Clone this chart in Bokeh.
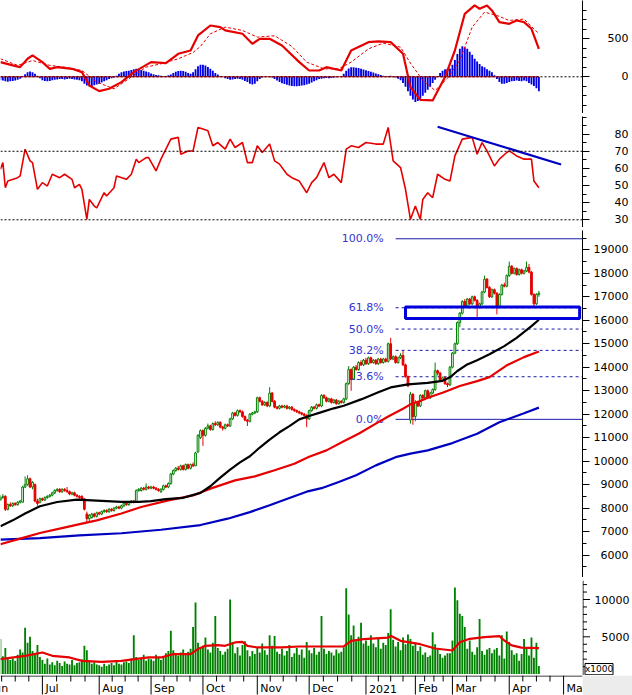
import numpy as np
import pandas as pd
from bokeh.plotting import figure
from bokeh.layouts import column, row
from bokeh.models import Range1d, LinearAxis, FixedTicker, ColumnDataSource, Span
from bokeh.core.properties import value
from bokeh.embed import file_html
from bokeh.resources import INLINE

# ---------------- calendar ----------------
calendar_start = "2020-06-01"
first_trade = "2020-06-08"
last_trade = "2021-04-19"
calendar_end = "2021-05-31"
origin_day = "2020-07-01"
holidays = ["2020-09-02", "2021-01-01", "2021-02-10", "2021-02-11", "2021-02-12",
            "2021-02-15", "2021-02-16"]
month_names = ["Jun", "Jul", "Aug", "Sep", "Oct", "Nov", "Dec", "2021", "Feb", "Mar", "Apr", "May"]

# ---------------- candles (open, high, low, close) ----------------
candles_jun = [(8350,8550,8300,8450),(8450,8600,8400,8500),(8500,8550,7880,7950),(7950,8200,7900,8150),(8150,8250,8050,8100),
               (8100,8250,8050,8200),(8200,8250,8100,8150),(8150,8300,8100,8250),(8250,8350,8200,8300),(8250,8950,8250,8900),
               (8900,9350,8850,9000),(9000,9400,8950,9250),(9250,9300,8850,8900),(8900,9150,8800,9100),(9000,9050,8250,8300),
               (8300,8400,8100,8200),(8250,8450,8200,8400)]
candles_jul = [(8400,8450,8300,8350),(8350,8500,8300,8450),(8450,8550,8400,8500),(8500,8600,8450,8550),(8550,8700,8500,8650),
               (8650,8800,8600,8750),(8750,8850,8700,8800),(8800,8850,8650,8700),(8700,8850,8650,8800),(8800,8850,8700,8750),
               (8750,8900,8650,8700),(8700,8750,8550,8600),(8600,8700,8550,8650),(8650,8700,8500,8550),(8550,8600,8450,8500),
               (8500,8550,8400,8450),(8500,8550,8350,8400),(8400,8400,7900,7950),(7750,7850,7350,7550),(7550,7750,7400,7700),
               (7600,7800,7550,7750),(7750,7800,7600,7650),(7650,7850,7600,7800)]
candles_aug = [(7800,7850,7700,7750),(7750,7900,7700,7850),(7850,7950,7800,7900),(7900,7950,7800,7850),(7850,8000,7800,7950),
               (7950,8000,7850,7900),(7900,8050,7850,8000),(8000,8100,7950,8050),(8050,8100,7950,8000),(8000,8150,7950,8100),
               (8100,8250,8050,8200),(8200,8250,8100,8150),(8150,8300,8100,8250),(8250,8350,8200,8300),(8300,8350,8200,8250),
               (8250,8800,8250,8750),(8750,8850,8700,8800),(8750,8900,8700,8850),(8850,8900,8750,8800),(8800,9050,8750,8900),
               (8900,8950,8800,8850)]
candles_sep = [(8850,8950,8800,8900),(8900,8950,8800,8850),(8850,8900,8750,8800),(8800,8850,8700,8750),(8700,8850,8650,8800),
               (8800,9000,8750,8950),(8950,9000,8850,8900),(8900,9100,8850,9050),(9050,9500,9000,9450),(9450,9650,9400,9600),
               (9600,9750,9550,9700),(9700,9800,9600,9650),(9650,9850,9600,9800),(9800,9850,9600,9650),(9650,9900,9600,9850),
               (9850,9900,9650,9700),(9700,9900,9650,9850),(9850,9950,9750,9800),(9800,10400,9800,10350),(10400,11150,10350,11100),
               (11000,11350,10950,11300)]
candles_oct = [(11300,11350,10650,11100),(11100,11450,11050,11400),(11400,11600,11350,11500),(11500,11550,11300,11350),(11350,11650,11300,11600),
               (11600,11700,11500,11550),(11550,11700,11500,11650),(11650,11700,11400,11450),(11450,11500,11300,11400),(11400,11600,11350,11550),
               (11550,11600,11450,11500),(11500,11850,11450,11800),(11800,12100,11750,12050),(12050,12100,11900,11950),(11950,12200,11900,12150),
               (12150,12200,12050,12100),(12100,12150,11850,11900),(11900,11950,11700,11750),(11750,11800,11500,11700),(11700,12050,11650,12000),
               (12000,12100,11950,12050),(12050,12150,12000,12100)]
candles_nov = [(12100,12750,12050,12700),(12700,12750,12500,12550),(12550,12600,12350,12400),(12400,12550,12350,12500),(12500,12550,12300,12350),
               (12350,13150,12300,12900),(12900,12950,12500,12550),(12550,12600,12250,12300),(12300,12350,12200,12250),(12250,12400,12200,12350),
               (12350,12400,12250,12300),(12300,12400,12250,12350),(12350,12400,12200,12250),(12250,12350,12200,12300),(12300,12350,12150,12200),
               (12200,12250,12100,12150),(12150,12200,12050,12100),(12100,12150,12000,12050),(12050,12100,11950,12000),(12000,12050,11900,11950),
               (11950,12000,11450,11800)]
candles_dec = [(11800,12200,11750,12150),(12150,12350,12100,12300),(12300,12350,12200,12250),(12250,12450,12200,12400),(12400,12450,12300,12350),
               (12350,12850,12300,12800),(12800,12850,12650,12700),(12700,12750,12500,12550),(12550,12700,12500,12650),(12650,12700,12450,12500),
               (12500,12650,12450,12600),(12600,12650,12400,12450),(12450,12600,12400,12550),(12550,12600,12450,12500),(12500,12700,12450,12650),
               (12650,13350,12600,13300),(13300,14050,13250,13900),(13900,13950,13000,13500),(13500,14050,13450,14000),(14000,14100,13850,13900),
               (13900,14250,13850,14200),(14200,14300,14050,14100),(14100,14350,14050,14300)]
candles_jan = [(14300,14400,14100,14150),(14150,14450,14100,14400),(14400,14450,14150,14200),(14200,14350,14150,14300),(14300,14350,14100,14150),
               (14150,14400,14100,14350),(14350,14400,14150,14200),(14200,14400,14150,14350),(14350,14400,14200,14250),(14250,15050,14200,15000),
               (15000,15250,14300,14350),(14350,14500,14300,14450),(14450,14500,14150,14200),(14200,14450,14150,14400),(14400,14600,14350,14500),
               (14500,14700,14050,14100),(14100,14150,13550,13600),(13600,13650,13150,13200),(11750,12950,11600,12850),(12850,12900,11550,11900)]
candles_feb = [(11900,12600,11700,12500),(12500,12550,12300,12350),(12350,12850,12300,12800),(12800,12850,12600,12700),(12700,13050,12650,13000),
               (13000,13050,12650,12700),(12700,12950,12650,12900),(12900,13100,12850,13050),(13050,14200,13000,13850),(13850,13900,13650,13750),
               (13750,13800,13400,13450),(13450,13600,13400,13550),(13550,13600,13250,13300),(13300,13350,13150,13250),(13250,14050,13200,14000)]
candles_mar = [(14000,14650,13950,14600),(14600,15050,14550,15000),(15000,15950,14950,15900),(15900,16350,15700,16300),(16300,16850,16250,16800),
               (16800,16900,16550,16600),(16600,16950,16550,16900),(16900,16950,16650,16700),(16700,17050,16650,17000),(17000,17050,16800,16850),
               (16850,16900,16100,16550),(16550,16750,16500,16700),(16700,17250,16650,17200),(17200,17900,17150,17750),(17750,17800,17350,17400),
               (17400,17450,16950,17000),(17000,17350,16950,17300),(17300,17350,17100,17150),(17150,17200,16250,16600),(16600,17150,16550,17100),
               (17100,17550,17050,17500),(17500,17600,17400,17450),(17450,17950,17400,17900)]
candles_apr = [(17900,18500,17850,18300),(18300,18350,17950,18000),(18000,18250,17950,18200),(18200,18250,17900,17950),(17950,18200,17900,18150),
               (18150,18200,17950,18000),(18000,18150,17950,18100),(18100,18500,18050,18250),(18250,18400,18000,18050),(18050,18100,17050,17100),
               (17100,17150,16550,16700),(16700,17150,16650,17100),(17100,17250,17000,17150)]

# ---------------- volume (shares, x1000) ----------------
vol_jun = [4700,2400,3500,2200,1900,2100,1800,2600,3300,2900,6200,4200,5000,3100,2600,3900,2300]
vol_jul = [1900,1400,2100,1300,1600,1200,1800,1500,1100,1700,1400,1300,1900,1200,1500,1600,2000,3800,3200,1700,1400,1600,1300]
vol_aug = [1200,1000,1400,1100,1300,1500,1200,1800,1400,1300,1600,1700,1500,2100,5200,2300,1900,2200,2600,1800,2100]
vol_sep = [2000,1800,2600,2200,1900,2400,2800,3100,5800,3200,2700,2500,2900,3300,2600,3000,3400,6300,9600,4200,3600]
vol_oct = [3800,4900,3300,2900,4200,7800,3500,3100,2600,3000,3400,10000,4300,2800,3600,2500,3900,4400,3200,2400,3100,2700]
vol_nov = [3600,2900,4100,3200,2600,5200,3800,5100,3000,2700,3400,2500,3100,3900,2300,2800,3500,2600,3300,2200,4300]
vol_dec = [3200,2800,3500,2600,3000,7800,3400,2700,3100,2900,2500,3300,2800,3000,3600,11500,8000,5200,6500,4400,5000,6900,4100]
vol_jan = [4500,3800,5200,4100,3600,4800,3400,4200,3900,5500,8700,4600,3700,4300,3200,4900,4000,5300,4700,3800]
vol_feb = [4200,3100,3700,2600,2900,2300,2500,5600,4000,3300,2700,2200,2500,2800,2800]
vol_mar = [4500,11600,9900,8100,7800,6300,3400,4500,3000,2600,3600,7400,3100,2600,3300,3500,2800,3300,3500,2500,5200,2100,5700]
vol_apr = [4300,3200,2600,2800,1800,2700,4700,3600,2500,4900,2200,4200,1100]
vol_unit_label = "x1000"

vol_ma_day = [-17,-7,0,4,11,16,24,32,43,48,53,60,63,66,71,74,78,81,83,87,97,104,122,125,130,140,141,145,153,159,166,169,173,179,185,187,190,194,201]
vol_ma_val = [2010,2450,2900,2450,2230,1780,1650,1780,2230,2230,2680,2680,3350,3790,3880,3790,4240,4330,3790,3570,
              3570,3700,3700,4460,4680,4900,5130,4460,4010,3430,3160,4280,4730,4950,5100,4500,3850,3540,3480]

# ---------------- moving averages on price (day numbers count trading days from 2020-07-01) ----------------
ma_black_day = [-17,-12,-7,-1,6,14,22,32,39,44,50,57,64,68,72,76,80,84,88,92,96,100,104,108,113,118,122,129,136,141,148,156,162,165,168,172,176,181,187,192,198,201]
ma_black_val = [7230,7480,7770,8080,8260,8360,8320,8270,8270,8300,8380,8440,8650,8930,9300,9640,9950,10210,10580,10920,
                11230,11490,11780,11920,12090,12250,12360,12630,12930,13140,13270,13330,13420,13570,13840,14120,14300,14550,14900,15250,15750,16020]
ma_red_day = [-17,-9,-1,7,16,22,32,40,51,61,68,78,86,94,102,108,115,122,128,135,140,146,149,153,156,162,169,176,181,188,195,201]
ma_red_val = [6460,6700,6940,7130,7340,7480,7770,8050,8330,8540,8830,9180,9350,9610,9890,10190,10460,10850,11170,11600,
              11900,12230,12420,12560,12700,12910,13200,13410,13580,14080,14430,14670]
ma_blue_day = [-17,-1,15,32,48,64,75,84,92,100,107,113,120,127,135,143,149,156,166,176,185,195,201]
ma_blue_val = [6660,6720,6840,6930,7080,7280,7550,7830,8120,8430,8700,8850,9110,9400,9820,10170,10320,10460,10770,11170,11660,12040,12280]

# ---------------- MACD ----------------
macd_day = [-17,-12,-9,-6,-4,0,3,6,12,16,19,23,27,32,37,44,50,55,60,63,68,72,74,81,85,88,92,97,104,108,112,115,121,125,132,136,141,146,149,153,158,163,167,171,175,177,180,182,185,189,192,195,198,201]
macd_val = [193,150,127,237,281,193,105,127,105,61,-114,-189,-158,-70,61,193,180,303,346,544,675,654,610,566,434,500,500,412,193,83,
            83,127,83,346,456,465,456,303,-136,-303,-311,-4,346,829,939,895,939,873,719,697,741,719,632,368]
signal_day = [-17,-10,-4,3,9,16,22,29,35,42,48,55,61,64,68,74,81,87,94,101,107,114,120,125,132,138,145,149,154,159,164,169,174,179,184,189,195,201]
signal_val = [237,150,215,150,127,83,-70,-158,-26,127,171,237,320,400,566,654,610,522,540,400,193,105,105,193,368,443,390,180,-48,-180,
              -20,215,654,851,807,741,760,566]
hist_jun = [-45,-50,-60,-65,-60,-55,-50,-40,-25,10,35,60,70,60,40,15,-20]
hist_jul = [-45,-55,-60,-55,-45,-40,-35,-30,-30,-35,-30,-25,-30,-35,-40,-45,-60,-90,-115,-125,-120,-110,-100]
hist_aug = [-90,-75,-60,-45,-30,-20,-8,15,40,60,70,75,80,90,100,105,100,90,80,70,60]
hist_sep = [45,35,25,20,15,10,10,20,30,50,65,75,80,75,65,50,40,60,100,140,158]
hist_oct = [160,150,130,105,80,50,30,10,0,-20,-30,-40,-35,-30,-25,-30,-40,-55,-70,-90,-100,-90]
hist_nov = [-60,-30,-10,0,5,5,-10,-30,-50,-70,-85,-95,-105,-115,-120,-125,-125,-120,-115,-110,-100]
hist_dec = [-90,-75,-60,-45,-30,-25,-20,-15,-20,-15,-10,-5,0,5,40,80,110,125,125,120,115,105,95]
hist_jan = [85,75,65,55,45,35,25,15,5,10,15,5,-10,-25,-45,-80,-130,-190,-250,-300]
hist_feb = [-333,-320,-290,-250,-210,-170,-130,-80,-40,10,50,80,100,105,110]
hist_mar = [160,220,300,370,403,390,368,330,290,237,200,170,140,127,100,80,61,20,-30,-70,-92,-90,-80]
hist_apr = [-70,-60,-55,-50,-55,-60,-50,-60,-80,-100,-120,-150,-189]

# ---------------- RSI ----------------
rsi_day = [-17,-16,-15,-14,-10,-9,-7,-5,-4,-2,0,2,4,7,9,12,13,15,16,18,19,21,22,25,26,29,30,34,36,38,39,42,43,46,48,52,55,56,59,61,
           63,65,67,69,71,74,76,78,81,83,85,87,89,92,94,96,99,101,104,107,109,111,114,116,118,121,123,125,128,131,135,138,140,142,145,147,149,151,153,154,
           156,158,160,163,165,167,170,174,176,178,180,183,185,188,189,192,195,198,199,201]
rsi_val = [59.5,63.4,48.7,52.6,54.6,55.6,71.2,64.4,63.4,47.8,51.7,49.7,56.6,54.6,56.6,53.6,48.7,50.7,47.8,30.2,
           41.9,38.0,37.0,45.8,43.9,48.7,55.6,53.6,56.6,65.4,63.4,66.3,66.3,58.5,65.4,77.1,78.1,68.3,70.2,70.2,
           83.9,83.0,82.0,73.2,75.1,71.2,77.1,72.2,75.1,63.4,63.4,73.2,69.3,74.2,64.4,62.5,56.6,54.6,52.6,45.8,
           51.7,54.6,63.4,54.6,56.6,51.7,71.2,73.2,72.2,75.1,74.2,74.2,83.9,64.4,60.5,47.8,30.2,38.0,30.2,41.9,
           45.8,42.9,56.6,53.6,52.6,67.3,77.1,78.1,68.3,75.1,70.2,61.4,65.4,69.3,70.2,67.3,65.4,65.4,52.6,48.7]
rsi_trend_day = [160, 210]
rsi_trend_val = [84.3, 62.3]
rsi_levels = [70, 30]

# ---------------- Fibonacci retracement and support zone ----------------
fib_high = 19470
fib_low = 11780
fib_ratios = [0.0, 0.236, 0.382, 0.5, 0.618, 1.0]
fib_labels = ["0.0%", "23.6%", "38.2%", "50.0%", "61.8%", "100.0%"]
fib_start_day = 143
zone_day = [147, 217.5]
zone_price = [16070, 16560]

# =============== build ===============
hol = set(pd.to_datetime(holidays))
all_days = [d for d in pd.bdate_range(calendar_start, calendar_end) if d not in hol]
origin = all_days.index(pd.Timestamp(origin_day))
day_num = {d: k - origin for k, d in enumerate(all_days)}
trade_days = [d for d in all_days if pd.Timestamp(first_trade) <= d <= pd.Timestamp(last_trade)]
bar_x = np.array([day_num[d] for d in trade_days], dtype=float)

month_x = []
seen = set()
for d in all_days:
    key = (d.year, d.month)
    if key not in seen:
        seen.add(key)
        month_x.append(day_num[d])
minor_x = []
for a, b in zip(month_x[:-1], month_x[1:]):
    for k in (1, 2, 3):
        minor_x.append(a + (b - a) * k / 4.0)

ohlc = np.array(candles_jun + candles_jul + candles_aug + candles_sep + candles_oct + candles_nov +
                candles_dec + candles_jan + candles_feb + candles_mar + candles_apr, dtype=float)
o, h, l, c = ohlc[:, 0], ohlc[:, 1], ohlc[:, 2], ohlc[:, 3]
vol = np.array(vol_jun + vol_jul + vol_aug + vol_sep + vol_oct + vol_nov + vol_dec + vol_jan + vol_feb + vol_mar + vol_apr, dtype=float)
hist = np.array(hist_jun + hist_jul + hist_aug + hist_sep + hist_oct + hist_nov + hist_dec + hist_jan + hist_feb + hist_mar + hist_apr, dtype=float)
n = len(bar_x)
o, h, l, c = o[:n], h[:n], l[:n], c[:n]
vol, hist = vol[:n], hist[:n]

GREEN = "#008000"
RED = "#e60000"
MA_BLUE = "#0000c0"
HIST_BLUE = "#0000e6"
FIB_LINE = "#1a1aa8"
FIB_TEXT = "#3434d0"
SEP = "#b4b4b4"
FONT = "DejaVu Sans"

W = 632
FRAME_W = 582
RB = W - FRAME_W
xr = Range1d(-16.96, 218.66)


def make_panel(hgt, y0, y1, fill="white", width=W, right=RB, x_range=None):
    p = figure(width=width, height=hgt, x_range=x_range if x_range is not None else xr,
               y_range=y0 if isinstance(y0, Range1d) else Range1d(y0, y1),
               output_backend="svg", toolbar_location=None,
               x_axis_location=None, y_axis_location=None,
               min_border_left=0, min_border_top=0, min_border_bottom=0, min_border_right=right,
               outline_line_color=None, background_fill_color=fill, border_fill_color=fill)
    p.grid.visible = False
    return p


def right_axis(p, major, minor):
    ax = LinearAxis(ticker=FixedTicker(ticks=major, minor_ticks=minor))
    ax.major_tick_out = 7
    ax.major_tick_in = 0
    ax.minor_tick_out = 4
    ax.minor_tick_in = 0
    ax.axis_line_color = "black"
    ax.major_tick_line_color = "black"
    ax.minor_tick_line_color = "black"
    ax.major_label_text_font = FONT
    ax.major_label_text_font_size = "11px"
    ax.major_label_text_color = "black"
    ax.major_label_standoff = 4
    ax.major_label_overrides = {t: str(int(t)).rjust(5, "\u2007") for t in major}
    p.add_layout(ax, "right")


def separator():
    return make_panel(3, 0, 1, fill=SEP)


# ---- MACD panel ----
pm = make_panel(113, -483, 1004)
pm.add_layout(Span(location=0, dimension="width", line_color="black", line_dash="2 2", line_width=1))
hist_src = ColumnDataSource(dict(x=bar_x, top=hist))
pm.vbar(x="x", top="top", bottom=0, width=0.75, source=hist_src, fill_color=HIST_BLUE, line_color=None)
pm.line(x=[bar_x[0], bar_x[-1]], y=[0, 0], line_color=RED, line_width=1)
pm.line(x=signal_day, y=signal_val, line_color=RED, line_width=1, line_dash="3 2")
pm.line(x=macd_day, y=macd_val, line_color=RED, line_width=2.2)
right_axis(pm, [0, 500], [-375, -250, -125, 125, 250, 375, 625, 750, 875])

# ---- RSI panel ----
pr = make_panel(111, 25.5, 90.3)
for lev in rsi_levels:
    pr.add_layout(Span(location=lev, dimension="width", line_color="black", line_dash="2 2", line_width=1))
pr.line(x=rsi_day, y=rsi_val, line_color=RED, line_width=1.6)
pr.line(x=rsi_trend_day, y=rsi_trend_val, line_color=MA_BLUE, line_width=2.2)
right_axis(pr, [30, 40, 50, 60, 70, 80], [35, 45, 55, 65, 75, 85, 90])

# ---- price panel ----
pp = make_panel(347, 5046, 19822)
fib_levels = [fib_low + r * (fib_high - fib_low) for r in fib_ratios]
pp.text(x=[fib_start_day] * len(fib_levels), y=fib_levels, text=fib_labels, x_offset=-12,
        text_align="right", text_baseline="middle", text_color=FIB_TEXT,
        text_font=value(FONT), text_font_size="11px")
solid = [lv for r, lv in zip(fib_ratios, fib_levels) if r in (0.0, 1.0)]
dashed = [lv for r, lv in zip(fib_ratios, fib_levels) if r not in (0.0, 1.0)]
pp.segment(x0=[fib_start_day] * len(solid), y0=solid, x1=[xr.end] * len(solid), y1=solid,
           line_color=FIB_LINE, line_width=1)
pp.segment(x0=[fib_start_day] * len(dashed), y0=dashed, x1=[xr.end] * len(dashed), y1=dashed,
           line_color=FIB_LINE, line_width=1, line_dash="3 3")

up = c >= o
dn = ~up
src_up = ColumnDataSource(dict(x=bar_x[up], o=o[up], c=c[up], h=h[up], l=l[up]))
src_dn = ColumnDataSource(dict(x=bar_x[dn], o=o[dn], c=c[dn], h=h[dn], l=l[dn]))
pp.segment(x0="x", y0="l", x1="x", y1="h", source=src_up, line_color=GREEN, line_width=1)
pp.segment(x0="x", y0="l", x1="x", y1="h", source=src_dn, line_color=RED, line_width=1)
pp.vbar(x="x", bottom="o", top="c", width=0.7, source=src_up, fill_color="white", line_color=GREEN, line_width=1)
pp.vbar(x="x", bottom="c", top="o", width=0.7, source=src_dn, fill_color=RED, line_color=RED, line_width=1)

pp.line(x=ma_blue_day, y=ma_blue_val, line_color=MA_BLUE, line_width=2.2)
pp.line(x=ma_red_day, y=ma_red_val, line_color=RED, line_width=2.2)
pp.line(x=ma_black_day, y=ma_black_val, line_color="black", line_width=2.2)
pp.quad(left=[zone_day[0]], right=[zone_day[1]], bottom=[zone_price[0]], top=[zone_price[1]],
        fill_color=None, line_color="#0000dc", line_width=3)
right_axis(pp, list(range(6000, 19001, 1000)), list(range(5500, 19600, 500)))

# ---- volume panel (frame) + its hand-drawn right axis strip ----
vol_yr = Range1d(-188, 12547)
pv = make_panel(95, vol_yr, None, width=FRAME_W, right=0)
vol_src = ColumnDataSource(dict(x=bar_x, top=vol))
pv.vbar(x="x", top="top", bottom=0, width=0.75, source=vol_src, fill_color=GREEN, line_color=None)
pv.line(x=vol_ma_day, y=vol_ma_val, line_color=RED, line_width=2.2)

vol_major = [5000, 10000]
vol_minor = [1000, 2000, 3000, 4000, 6000, 7000, 8000, 9000, 11000, 12000]
pva = make_panel(95, vol_yr, None, width=RB, right=0, x_range=Range1d(0, RB))
pva.add_layout(Span(location=0.5, dimension="height", line_color="black", line_width=1))
pva.segment(x0=[0.5] * len(vol_major), y0=vol_major, x1=[7.5] * len(vol_major), y1=vol_major, line_color="black")
pva.segment(x0=[0.5] * len(vol_minor), y0=vol_minor, x1=[4.5] * len(vol_minor), y1=vol_minor, line_color="black")
pva.text(x=[RB - 3] * len(vol_major), y=vol_major, text=[str(v) for v in vol_major],
         text_align="right", text_baseline="middle", text_font=value(FONT), text_font_size="11px",
         text_color="black")
pva.quad(left=[2.5], right=[30.5], bottom=[-90], top=[1420], fill_color="white", line_color="black", line_width=1)
pva.text(x=[16.5], y=[665], text=[vol_unit_label], text_align="center", text_baseline="middle",
         text_font=value(FONT), text_font_size="9px", text_color="black")

# ---- time axis strip ----
ps = make_panel(20, 0, 20)
ps.border_fill_color = "#ececec"
ps.add_layout(Span(location=19.5, dimension="width", line_color="black", line_width=1))
ps.segment(x0=month_x, y0=[1] * len(month_x), x1=month_x, y1=[20] * len(month_x), line_color="black", line_width=1)
ps.segment(x0=minor_x, y0=[14] * len(minor_x), x1=minor_x, y1=[20] * len(minor_x), line_color="black", line_width=1)
ps.text(x=month_x, y=[7] * len(month_x), text=month_names, x_offset=3, text_align="left", text_baseline="middle",
        text_font=value(FONT), text_font_size="11px", text_color="black")

layout = column(pm, separator(), pr, separator(), pp, separator(), row(pv, pva, spacing=0), ps, spacing=0)
open("out.html", "w").write(file_html(layout, INLINE))
